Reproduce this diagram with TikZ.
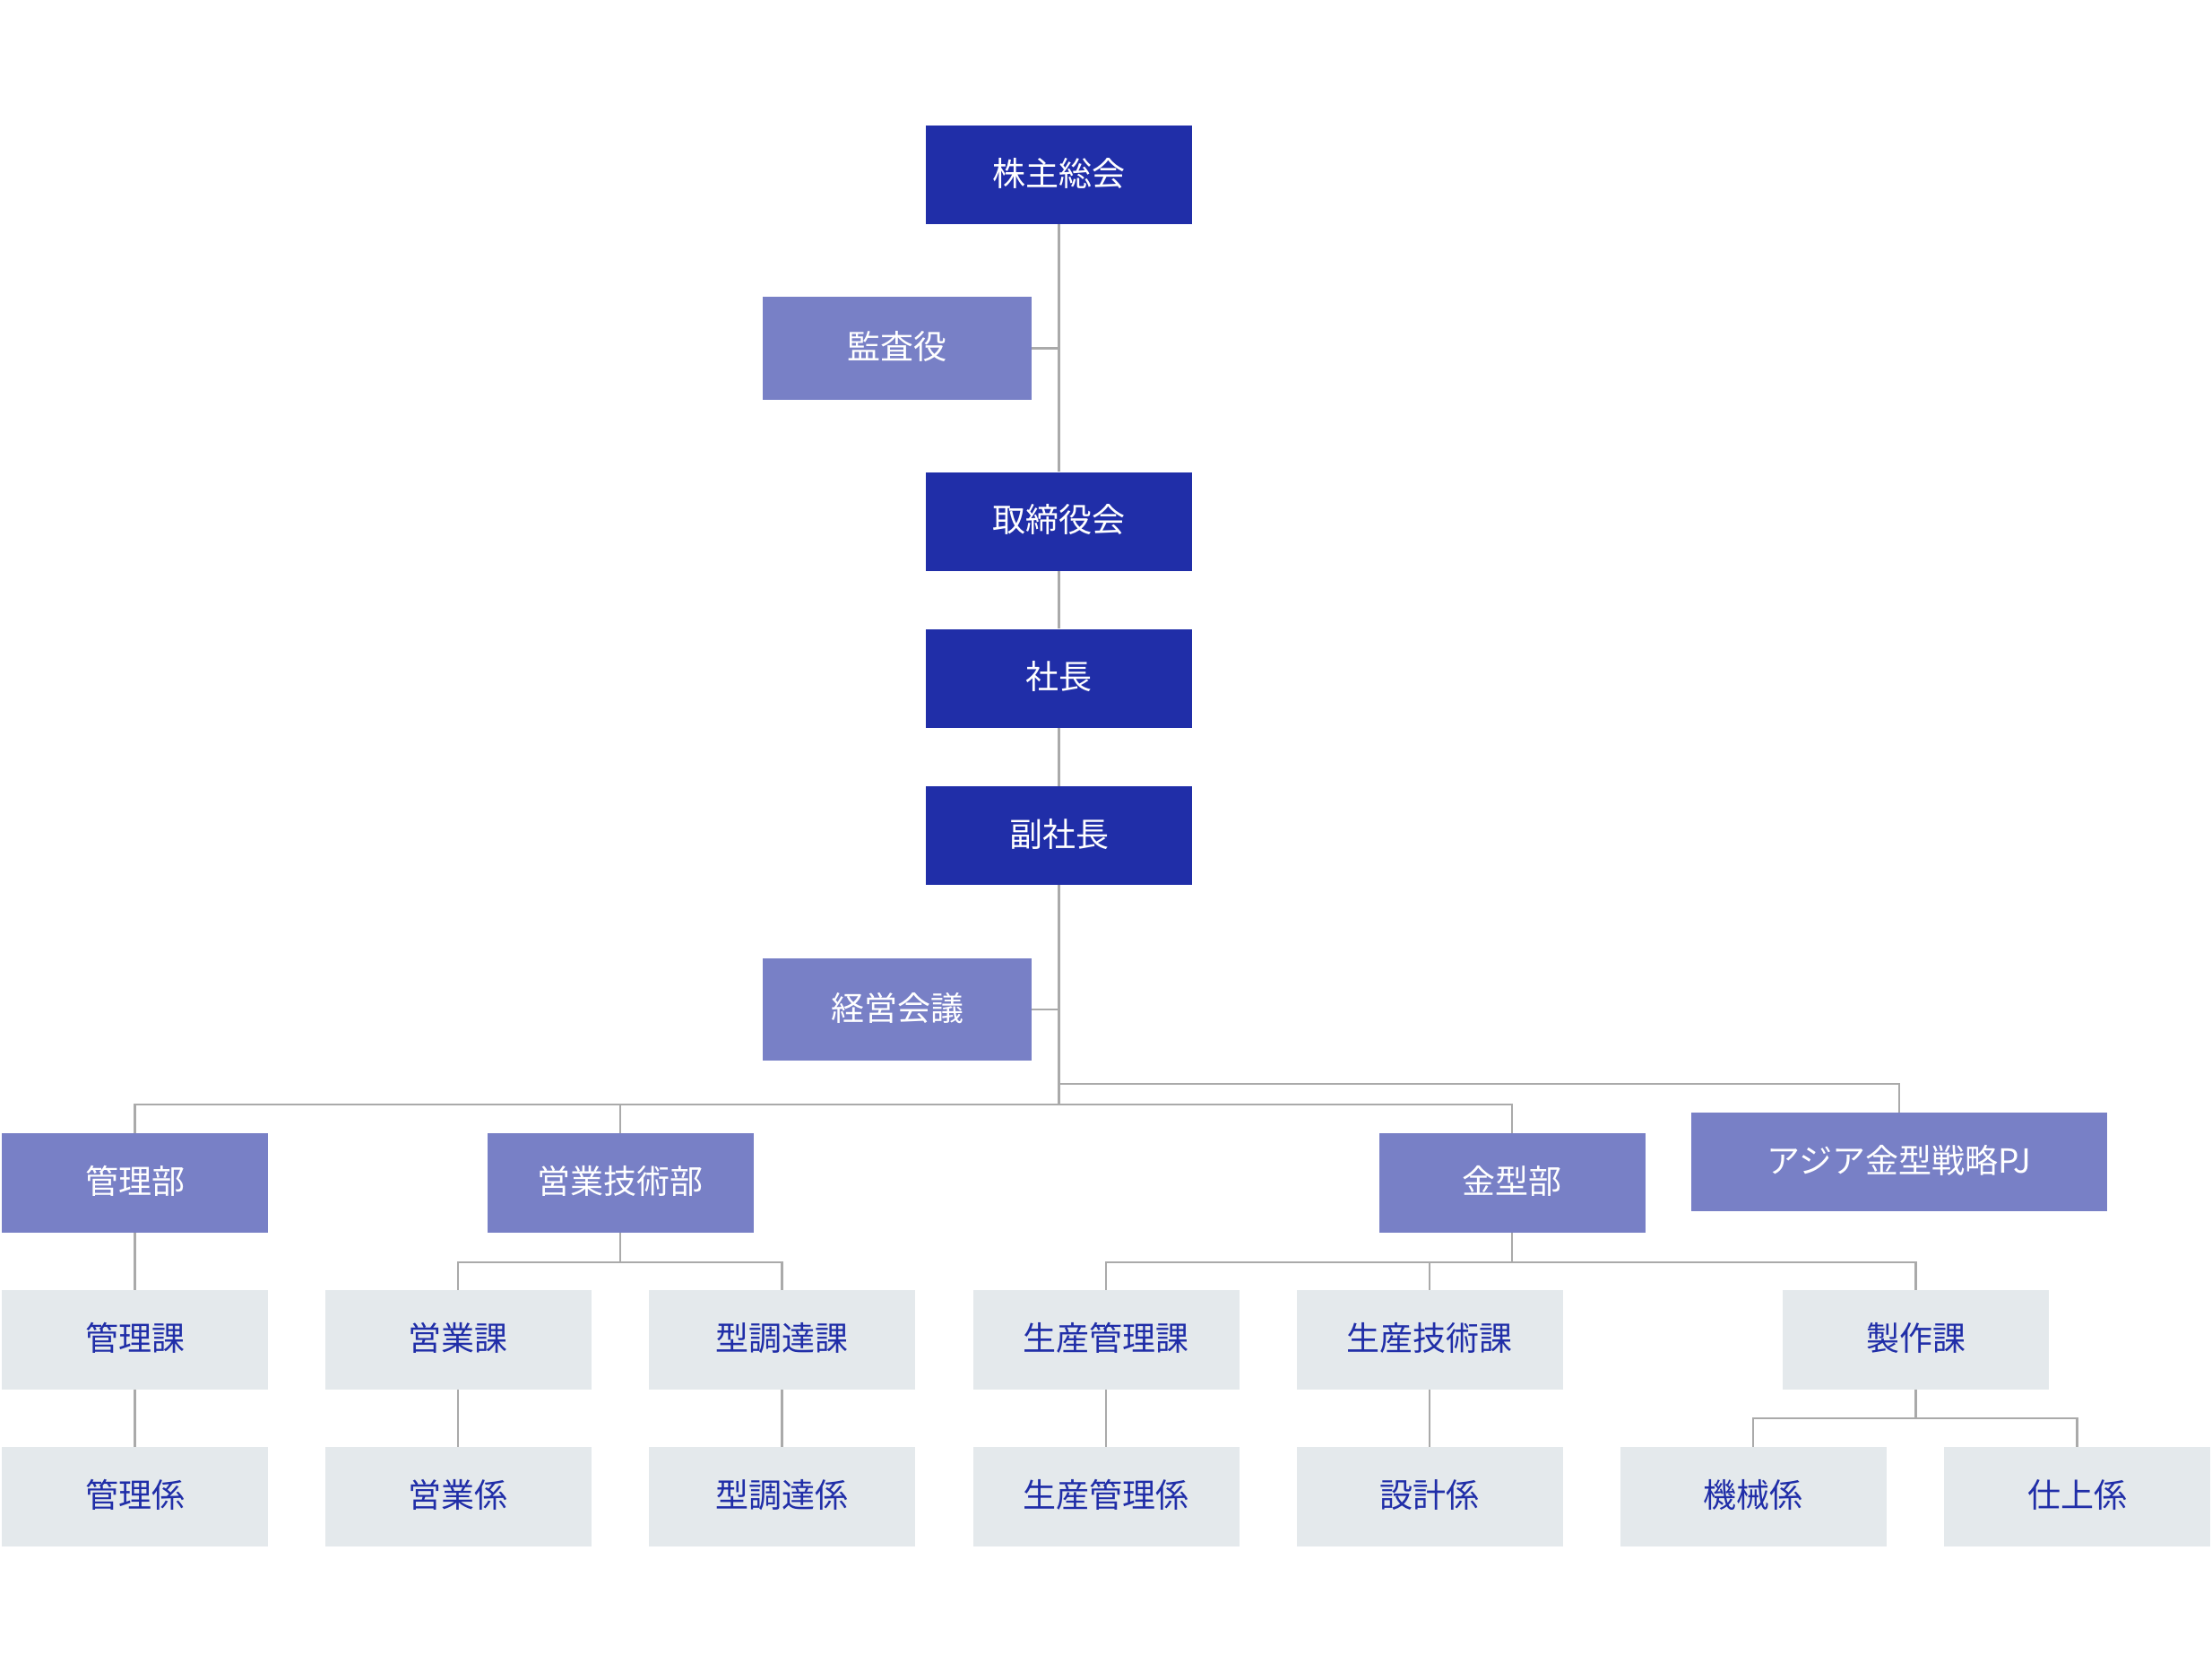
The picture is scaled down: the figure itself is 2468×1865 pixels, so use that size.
\documentclass[tikz,border=0pt]{standalone}
\usepackage{fontspec}
\setmainfont{Noto Sans CJK JP}
\definecolor{dk}{RGB}{32,46,168}
\definecolor{md}{RGB}{120,128,198}
\definecolor{lt}{RGB}{228,233,236}
\definecolor{ln}{RGB}{170,170,170}
\begin{document}
\begin{tikzpicture}[x=1pt,y=-1pt,
 box/.style={rectangle, inner sep=0pt, minimum width=297pt, minimum height=111pt, text height=30pt, text depth=6pt, font=\fontsize{37}{40}\selectfont},
 dkbox/.style={box, fill=dk, text=white},
 mdbox/.style={box, fill=md, text=white},
 ltbox/.style={box, fill=lt, text=dk},
 conn/.style={draw=ln, line width=2.5pt}]
\useasboundingbox (0,0) rectangle (2468,1865);
% top column
\node[dkbox, minimum height=110pt] (kabu) at (1181.5,195) {株主総会};
\node[mdbox, minimum width=300pt, minimum height=115pt] (kansa) at (1001,388.5) {監査役};
\node[dkbox, minimum height=110pt] (tori) at (1181.5,581.5) {取締役会};
\node[dkbox, minimum height=110pt] (shacho) at (1181.5,756.5) {社長};
\node[dkbox, minimum height=110pt] (fuku) at (1181.5,932) {副社長};
\node[mdbox, minimum width=300pt, minimum height=114pt] (keiei) at (1001,1126) {経営会議};
% departments
\node[mdbox] (kanri) at (150.5,1319.5) {管理部};
\node[mdbox] (eigi) at (692,1319.5) {営業技術部};
\node[mdbox] (kana) at (1687,1319.5) {金型部};
\node[mdbox, minimum width=464pt, minimum height=110pt] (asia) at (2119,1296) {アジア金型戦略PJ};
% sections
\node[ltbox] (kanrika) at (150.5,1494.5) {管理課};
\node[ltbox] (eigyoka) at (511,1494.5) {営業課};
\node[ltbox] (katachoka) at (872.5,1494.5) {型調達課};
\node[ltbox] (seikanka) at (1234,1494.5) {生産管理課};
\node[ltbox] (seigika) at (1595,1494.5) {生産技術課};
\node[ltbox] (seisaku) at (2137.5,1494.5) {製作課};
% groups
\node[ltbox] (kanrikei) at (150.5,1669.5) {管理係};
\node[ltbox] (eigyokei) at (511,1669.5) {営業係};
\node[ltbox] (katachokei) at (872.5,1669.5) {型調達係};
\node[ltbox] (seikankei) at (1234,1669.5) {生産管理係};
\node[ltbox] (sekkei) at (1595,1669.5) {設計係};
\node[ltbox] (kikai) at (1956,1669.5) {機械係};
\node[ltbox] (shiage) at (2317.5,1669.5) {仕上係};
% connectors
\coordinate (bus) at (1181.5,1232);
\coordinate (aj) at (1181.5,1209);
\draw[conn] (kabu.south) -- (tori.north);
\draw[conn] (kansa.east) -- (kansa.east -| kabu.south);
\draw[conn] (tori.south) -- (shacho.north);
\draw[conn] (shacho.south) -- (fuku.north);
\draw[conn] (fuku.south) -- (bus);
\draw[conn] (keiei.east) -- (keiei.east -| fuku.south);
\draw[conn] (aj) -| (asia.north);
\draw[conn] (kanri.north) -- ++(0,-32) -| (kana.north);
\draw[conn] (eigi.north) -- ++(0,-32);
\draw[conn] (kanri.south) -- (kanrika.north);
\draw[conn] (kanrika.south) -- (kanrikei.north);
\draw[conn] (eigi.south) -- ++(0,33);
\draw[conn] (eigyoka.north) -- ++(0,-31) -| (katachoka.north);
\draw[conn] (eigyoka.south) -- (eigyokei.north);
\draw[conn] (katachoka.south) -- (katachokei.north);
\draw[conn] (kana.south) -- ++(0,33);
\draw[conn] (seikanka.north) -- ++(0,-31) -| (seisaku.north);
\draw[conn] (seigika.north) -- ++(0,-31);
\draw[conn] (seikanka.south) -- (seikankei.north);
\draw[conn] (seigika.south) -- (sekkei.north);
\draw[conn] (seisaku.south) -- ++(0,32);
\draw[conn] (kikai.north) -- ++(0,-32) -| (shiage.north);
\end{tikzpicture}
\end{document}
